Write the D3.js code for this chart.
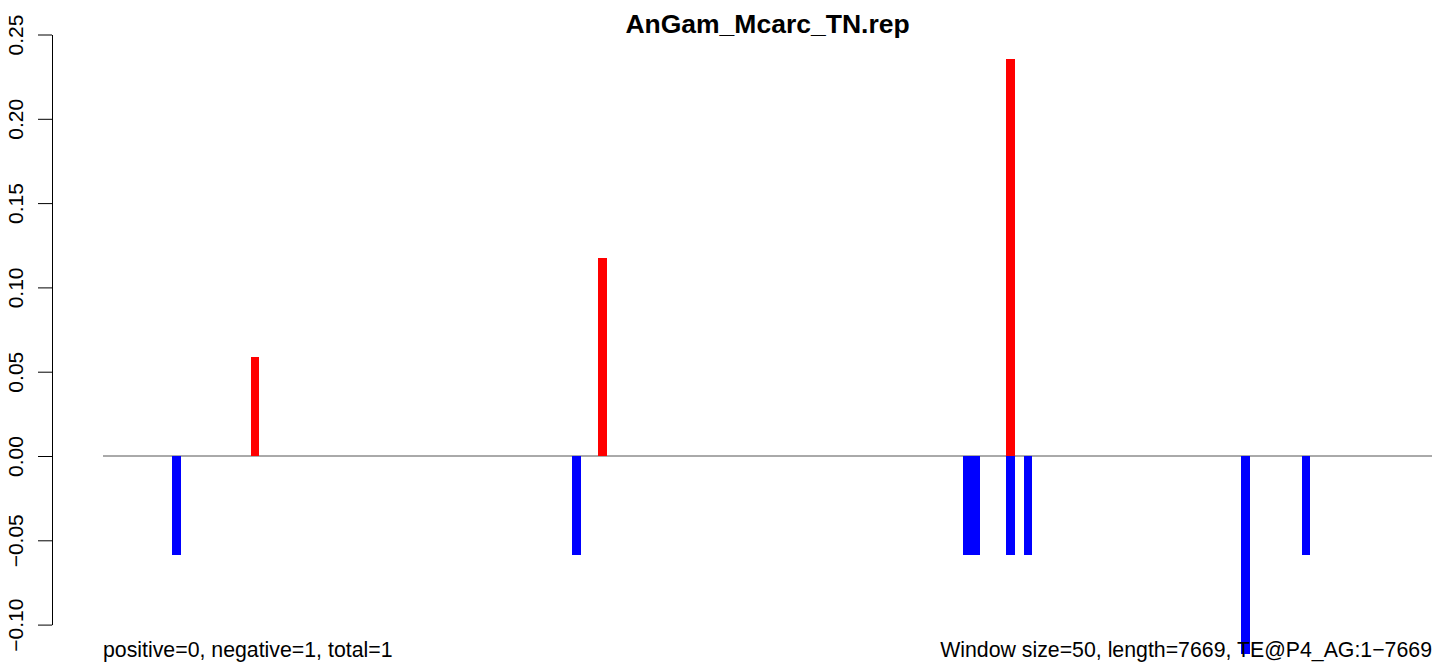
<!DOCTYPE html>
<html>
<head>
<meta charset="utf-8">
<script src="https://cdn.jsdelivr.net/npm/d3@7"></script>
<style>
  body { margin: 0; background: #fff; }
  text { font-family: "Liberation Sans", Arial, sans-serif; }
</style>
</head>
<body>
<svg id="chart" width="1439" height="664"></svg>
<script>
const svg = d3.select("#chart");

const TITLE = "AnGam_Mcarc_TN.rep";
const LEFT_NOTE = "positive=0, negative=1, total=1";
const RIGHT_NOTE = "Window size=50, length=7669, TE@P4_AG:1\u22127669";
const N_WINDOWS = 153;

// window index -> value (from the picture)
const posWindows = [17, 57, 104];
const posValues = [0.0588, 0.1176, 0.2353];
const negWindows = [8, 54, 99, 100, 104, 106, 131, 138];
const negValues = [-0.0588, -0.0588, -0.0588, -0.0588, -0.0588, -0.0588, -0.1176, -0.0588];
const yTicks = [-0.10, -0.05, 0.00, 0.05, 0.10, 0.15, 0.20, 0.25];

const xscale = d3.scaleLinear().domain([0, N_WINDOWS]).range([103, 1432]);
const yscale = d3.scaleLinear().domain([-0.10, 0.25]).range([624.6, 34.5]);
const barW = xscale(1) - xscale(0);

const bars = [];
negWindows.forEach((w, i) => bars.push({ w, v: negValues[i], color: "#0000ff" }));
posWindows.forEach((w, i) => bars.push({ w, v: posValues[i], color: "#ff0000" }));

// zero line
svg.append("line")
    .attr("x1", xscale(0)).attr("x2", xscale(N_WINDOWS))
    .attr("y1", yscale(0)).attr("y2", yscale(0))
    .style("stroke", "#555").style("stroke-width", 1);

svg.selectAll(".bar").data(bars).join("rect")
    .attr("class", "bar")
    .attr("x", d => xscale(d.w))
    .attr("width", barW)
    .attr("y", d => yscale(Math.max(0, d.v)))
    .attr("height", d => Math.abs(yscale(d.v) - yscale(0)))
    .attr("shape-rendering", "crispEdges")
    .style("fill", d => d.color);

// y axis, R style with rotated labels
const yAxis = d3.axisLeft(yscale).tickValues(yTicks).tickSize(14).tickSizeOuter(0);
const ag = svg.append("g").attr("transform", "translate(52,0)").call(yAxis);
ag.select(".domain").style("stroke", "#000").style("stroke-width", 1);
ag.selectAll(".tick line").style("stroke", "#000");
ag.selectAll(".tick text")
    .attr("x", null).attr("dy", null)
    .attr("transform", "translate(-29,0) rotate(-90)")
    .attr("text-anchor", "middle")
    .style("font-size", "21px")
    .style("fill", "#000")
    .text(d => d3.format(".2f")(d).replace("-", "\u2212"));

svg.append("text")
    .attr("x", (xscale(0) + xscale(N_WINDOWS)) / 2)
    .attr("y", 33)
    .attr("text-anchor", "middle")
    .style("font-weight", "bold")
    .style("font-size", "26.5px")
    .text(TITLE);

svg.append("text")
    .attr("x", xscale(0))
    .attr("y", 657)
    .style("font-size", "21.3px")
    .text(LEFT_NOTE);

svg.append("text")
    .attr("x", xscale(N_WINDOWS))
    .attr("y", 657)
    .attr("text-anchor", "end")
    .style("font-size", "21.3px")
    .text(RIGHT_NOTE);
</script>
</body>
</html>
